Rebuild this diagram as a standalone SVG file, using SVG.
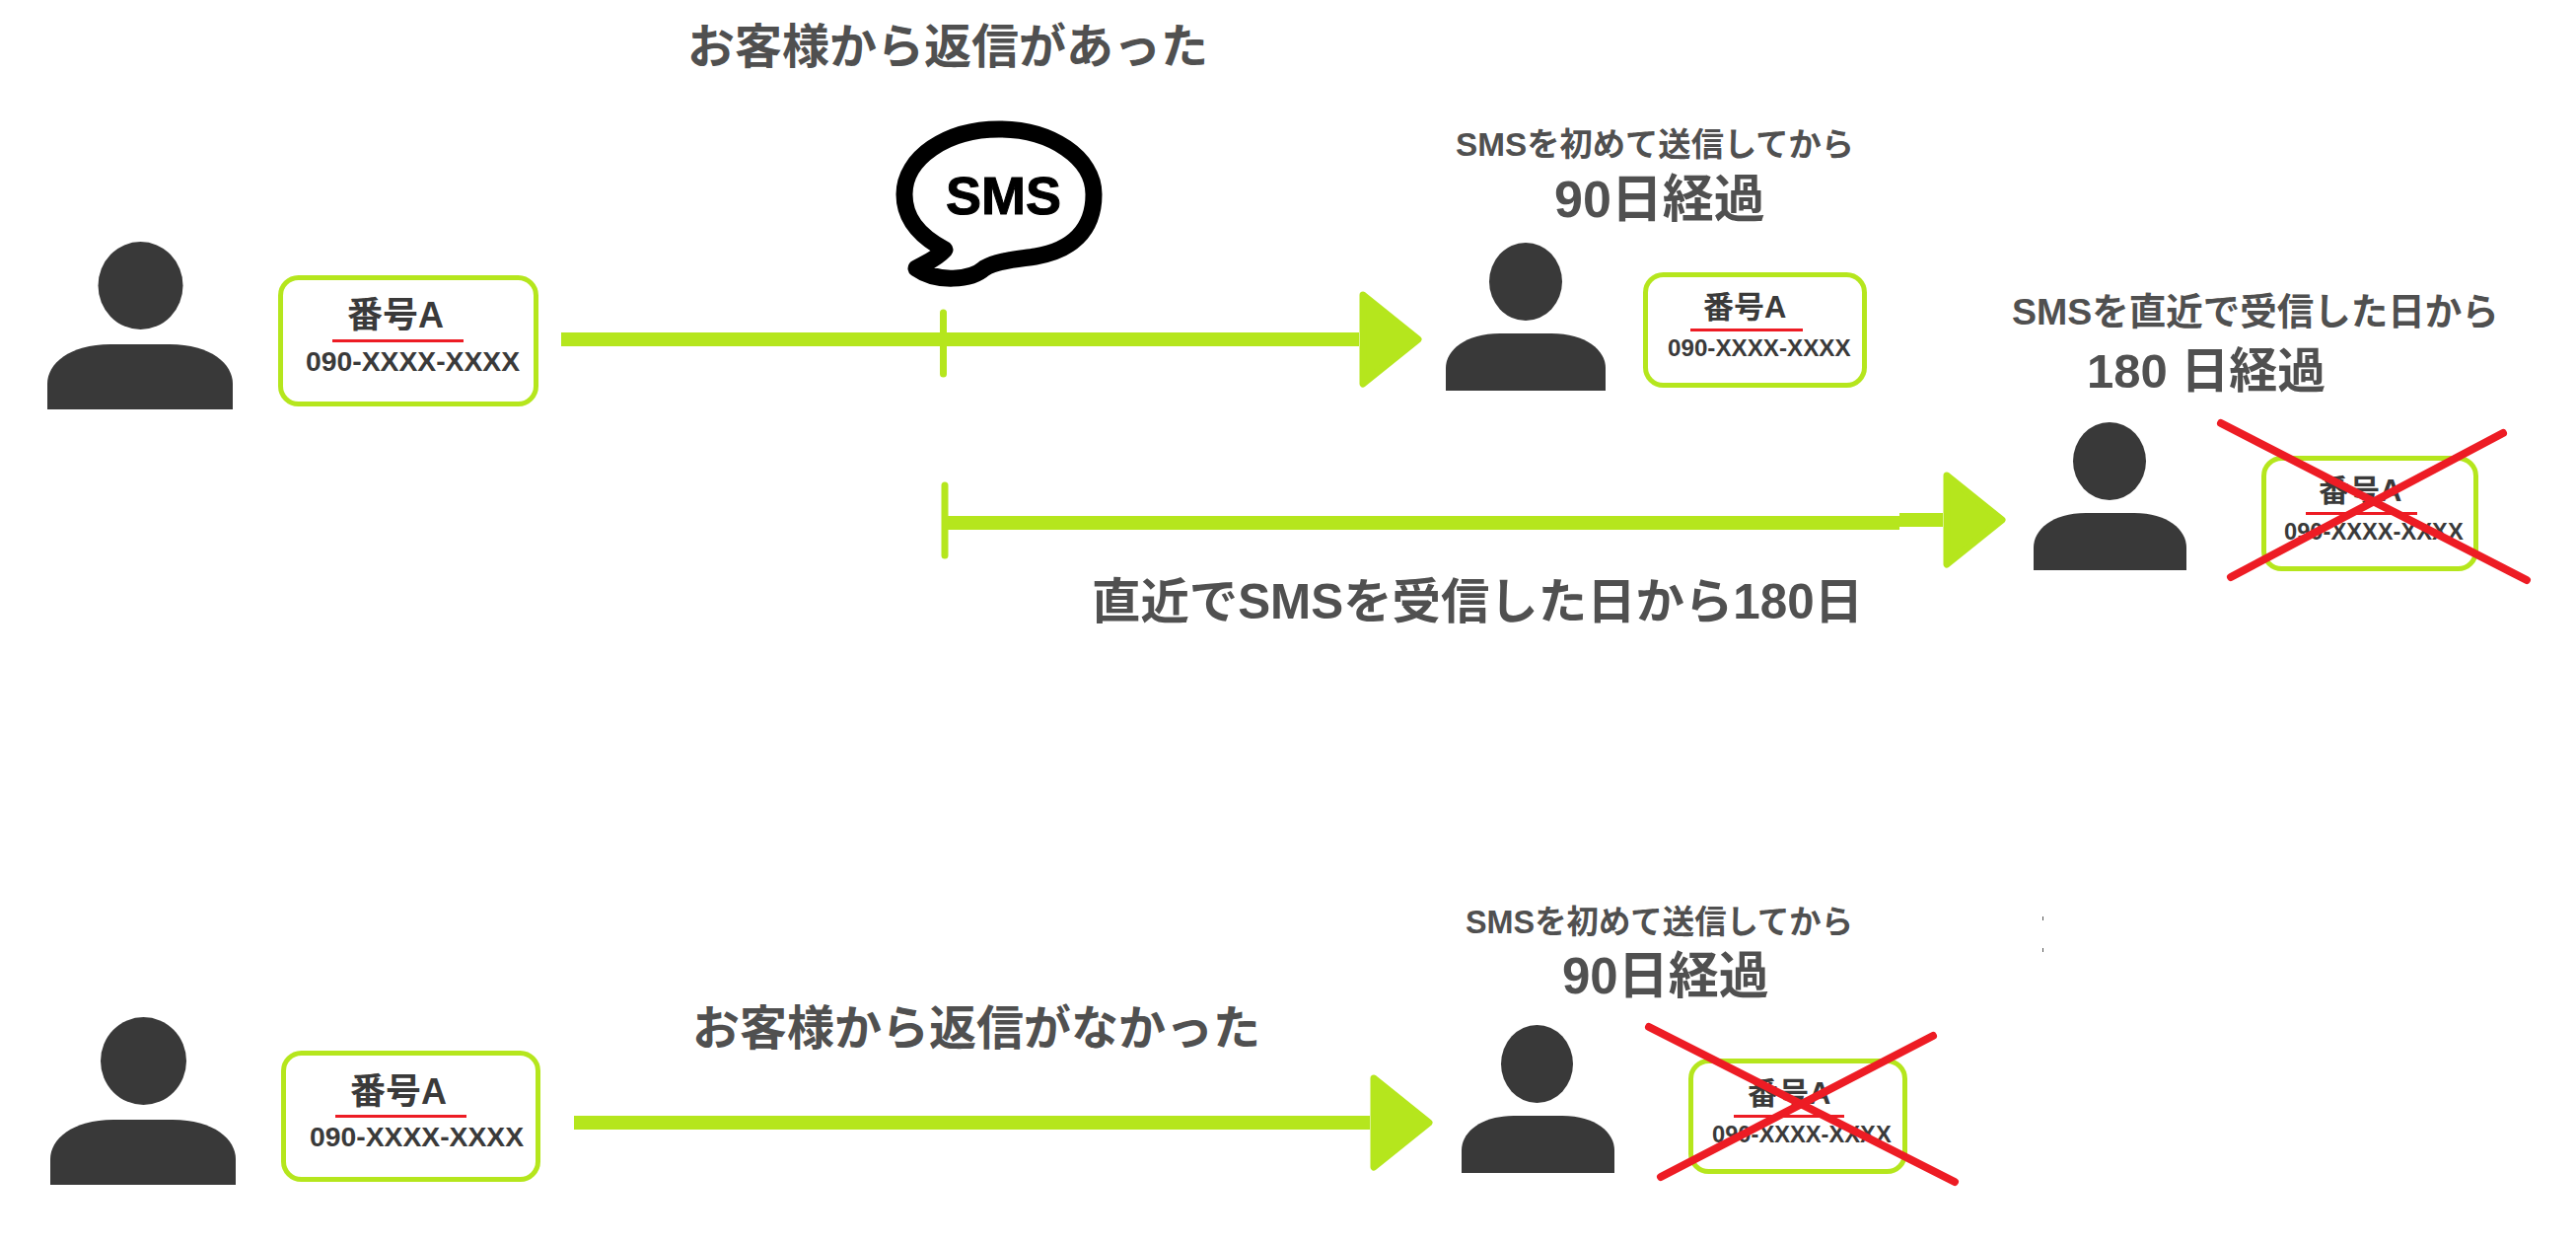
<svg xmlns="http://www.w3.org/2000/svg" width="2612" height="1261" viewBox="0 0 2612 1261">
<style>
text{font-family:"Liberation Sans","Noto Sans CJK JP",sans-serif;font-weight:700;fill:#505050}
.num,.name{fill:#3a3a3a}
.p{fill:#393939}
.card{fill:#fff;stroke:#b5e61d;stroke-width:5}
.ul{stroke:#ed1c24;stroke-width:3}
.x{stroke:#ed1c24;stroke-width:8;stroke-linecap:round}
.flow{stroke:#b5e61d;stroke-width:14;fill:none}
.tick{stroke:#b5e61d;stroke-width:7;stroke-linecap:round}
</style>
<defs>
<marker id="head" markerUnits="userSpaceOnUse" markerWidth="66" markerHeight="104" refX="0" refY="51" orient="auto" viewBox="0 0 66 104">
<path d="M4 6 L60 51 L4 96 Z" fill="#b5e61d" stroke="#b5e61d" stroke-width="7" stroke-linejoin="round"/>
</marker>
</defs>
<rect width="2612" height="1261" fill="#fff"/>
<g id="connectors">
<line class="flow" x1="569" y1="344" x2="1378" y2="344" marker-end="url(#head)"/>
<line class="tick" x1="956.500" y1="317" x2="956.500" y2="379"/>
<line class="flow" x1="958" y1="530" x2="1926" y2="530"/>
<line class="flow" x1="1926" y1="527" x2="1970" y2="527" marker-end="url(#head)"/>
<line class="tick" x1="958" y1="492" x2="958" y2="563"/>
<line class="flow" x1="582" y1="1138" x2="1389" y2="1138" marker-end="url(#head)"/>
</g>
<g id="label-replied"><text x="697" y="64" font-size="48">お客様から返信があった</text></g>
<g id="sms-bubble">
<path d="M1013 131C1066 131 1109 160 1109 197C1109 235 1085 254 1050 260C1030 263 1012 264 998 272C985 284 950 287 929 272C940 266 950 262 958 253C930 238 917 220 917 197C917 160 960 131 1013 131Z" fill="#fff" stroke="#000" stroke-width="17" stroke-linejoin="round"/>
<text x="959" y="217" font-size="54" style="fill:#000" stroke="#000" stroke-width="1">SMS</text>
</g>
<g id="person-1"><ellipse class="p" cx="142.500" cy="289.500" rx="43" ry="44.500"/><path class="p" d="M48 415V389C48 369 70 349 112 349H172C214 349 236 369 236 389V415Z"/></g>
<g id="card-1"><rect class="card" x="284.500" y="281.500" width="259" height="128" rx="18"/><text class="name" x="352" y="332" font-size="36">番号A</text><line class="ul" x1="337" y1="345.500" x2="470" y2="345.500"/><text class="num" x="310" y="376" font-size="28.300">090-XXXX-XXXX</text></g>
<g id="label-first-90"><text x="1476" y="158" font-size="33.300">SMSを初めて送信してから</text><text x="1576" y="220" font-size="52">90日経過</text></g>
<g id="person-2"><ellipse class="p" cx="1547" cy="285.500" rx="37" ry="39.500"/><path class="p" d="M1466 396V373C1466 355 1486 338 1521 338H1573C1608 338 1628 355 1628 373V396Z"/></g>
<g id="card-2"><rect class="card" x="1668.500" y="278.500" width="222" height="112" rx="18"/><text class="name" x="1727" y="322" font-size="31">番号A</text><line class="ul" x1="1714" y1="334.500" x2="1828" y2="334.500"/><text class="num" x="1691" y="361" font-size="24.200">090-XXXX-XXXX</text></g>
<g id="label-recent-180"><text x="2040" y="329" font-size="37.500">SMSを直近で受信した日から</text><text x="2116" y="393" font-size="49">180 日経過</text></g>
<g id="person-3"><ellipse class="p" cx="2139" cy="467.500" rx="37" ry="39.500"/><path class="p" d="M2062 578V555C2062 537 2081 520 2115 520H2164C2198 520 2217 537 2217 555V578Z"/></g>
<g id="card-3"><rect class="card" x="2295.500" y="464.500" width="215" height="112" rx="18"/><text class="name" x="2351" y="508" font-size="31">番号A</text><line class="ul" x1="2338" y1="520.500" x2="2451" y2="520.500"/><text class="num" x="2316" y="547" font-size="23.700">090-XXXX-XXXX</text><line class="x" x1="2252" y1="429" x2="2562" y2="588"/><line class="x" x1="2538" y1="439" x2="2262" y2="585"/></g>
<g id="label-180-days"><text x="1107" y="627" font-size="49.400">直近でSMSを受信した日から180日</text></g>
<g id="person-4"><ellipse class="p" cx="145.500" cy="1075.500" rx="43.500" ry="44.500"/><path class="p" d="M51 1201V1175C51 1155 73 1135 115 1135H175C217 1135 239 1155 239 1175V1201Z"/></g>
<g id="card-4"><rect class="card" x="287.500" y="1067.500" width="258" height="128" rx="18"/><text class="name" x="355" y="1119" font-size="36">番号A</text><line class="ul" x1="340" y1="1131.500" x2="473" y2="1131.500"/><text class="num" x="314" y="1162" font-size="28.300">090-XXXX-XXXX</text></g>
<g id="label-no-reply"><text x="702" y="1059" font-size="48">お客様から返信がなかった</text></g>
<g id="label-first-90-b"><text x="1486" y="946" font-size="32.400">SMSを初めて送信してから</text><text x="1584" y="1007" font-size="51">90日経過</text></g>
<g id="person-5"><ellipse class="p" cx="1558.500" cy="1078.500" rx="36.500" ry="39.500"/><path class="p" d="M1482 1189V1166C1482 1148 1501 1131 1535 1131H1584C1618 1131 1637 1148 1637 1166V1189Z"/></g>
<g id="card-5"><rect class="card" x="1714.500" y="1075.500" width="217" height="112" rx="18"/><text class="name" x="1772" y="1119" font-size="31">番号A</text><line class="ul" x1="1758" y1="1131.500" x2="1870" y2="1131.500"/><text class="num" x="1736" y="1158" font-size="23.700">090-XXXX-XXXX</text><line class="x" x1="1672" y1="1041" x2="1982" y2="1198"/><line class="x" x1="1960" y1="1050" x2="1684" y2="1193"/></g>
<g id="specks"><rect x="2071" y="929" width="1" height="4" fill="#555"/><rect x="2071" y="961" width="1" height="4" fill="#555"/></g>
</svg>
